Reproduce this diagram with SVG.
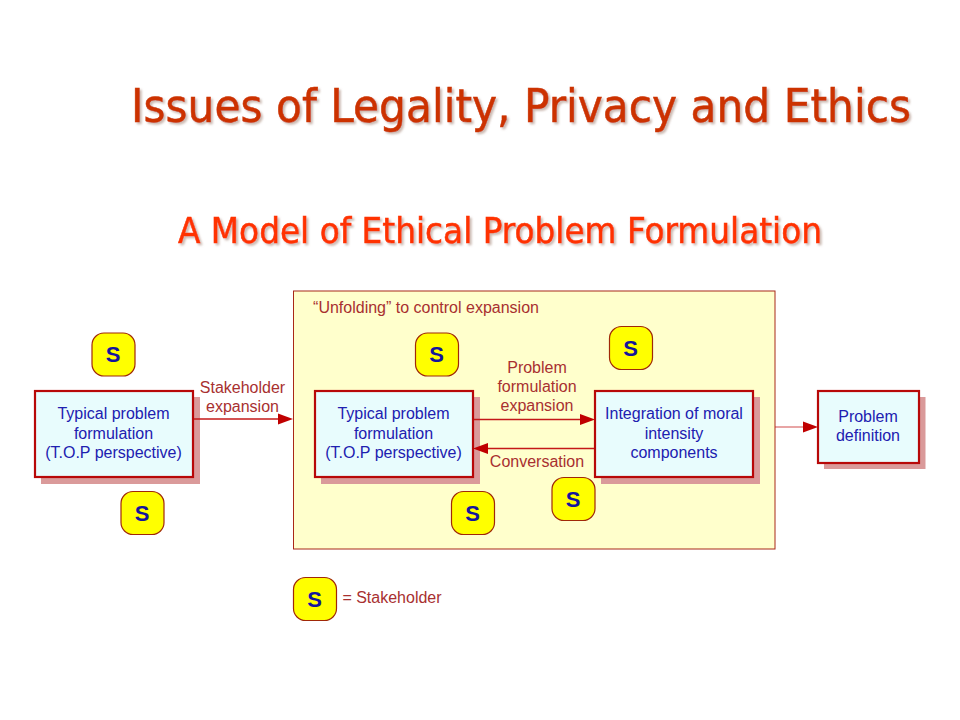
<svg xmlns="http://www.w3.org/2000/svg" width="960" height="720" viewBox="0 0 960 720">
<style>
text{font-family:"Liberation Sans",Arial,sans-serif;text-anchor:middle}
.t{font-family:"DejaVu Sans",Tahoma,sans-serif;font-stretch:condensed;text-anchor:start;filter:url(#ds)}
.box{fill:#e8fcfd;stroke:#b80808;stroke-width:2.2}
.sh{fill:#da9a9a}
.bt{font-size:16px;fill:#2020b0}
.lb{font-size:16px;fill:#a83030}
.s{fill:#ffff00;stroke:#a02808;stroke-width:1.2}
.st{font-size:22px;font-weight:bold;fill:#14149c}
.c{stroke:#c41818;stroke-width:1.3;fill:none}
.ah{fill:#c00000}
</style>
<defs>
<filter id="ds" x="-5%" y="-20%" width="110%" height="140%"><feDropShadow dx="2" dy="2" stdDeviation="1" flood-color="#a08070" flood-opacity=".55"/></filter>
<g id="stk"><rect class="s" x="0" y="0" width="43" height="43" rx="12"/><text class="st" x="21" y="29">S</text></g>
</defs>
<rect width="960" height="720" fill="#fff"/>
<g id="title">
<text class="t" x="131" y="122" font-size="46" fill="#cc3300" stroke="#cc3300" stroke-width=".5" textLength="780" lengthAdjust="spacingAndGlyphs">Issues of Legality, Privacy and Ethics</text>
</g>
<g id="subtitle">
<text class="t" x="178" y="243" font-size="35" fill="#ff3300" stroke="#ff3300" stroke-width=".5" textLength="644" lengthAdjust="spacingAndGlyphs">A Model of Ethical Problem Formulation</text>
</g>
<g id="unfolding">
<rect x="293.500" y="291" width="481.500" height="258" fill="#ffffcc" stroke="#a82818" stroke-width="1"/>
<text class="lb" x="426" y="312.500">“Unfolding” to control expansion</text>
</g>
<g id="box1"><rect class="sh" x="41" y="397" width="159" height="87"/><rect class="box" x="35" y="391" width="158" height="86"/>
<text class="bt" x="113.500" y="419">Typical problem</text><text class="bt" x="113.500" y="438.500">formulation</text><text class="bt" x="113.500" y="457.500">(T.O.P perspective)</text></g>
<g id="box2"><rect class="sh" x="321" y="397" width="159" height="87"/><rect class="box" x="315" y="391" width="158" height="86"/>
<text class="bt" x="393.500" y="419">Typical problem</text><text class="bt" x="393.500" y="438.500">formulation</text><text class="bt" x="393.500" y="457.500">(T.O.P perspective)</text></g>
<g id="box3"><rect class="sh" x="601" y="397" width="159" height="87"/><rect class="box" x="595" y="391" width="158" height="86"/>
<text class="bt" x="674" y="419">Integration of moral</text><text class="bt" x="674" y="438.500">intensity</text><text class="bt" x="674" y="457.500">components</text></g>
<g id="box4"><rect class="sh" x="824" y="397" width="101.500" height="72"/><rect class="box" x="818" y="391" width="101" height="72"/>
<text class="bt" x="868" y="421.500">Problem</text><text class="bt" x="868" y="440.500">definition</text></g>
<g id="connectors">
<path class="c" d="M194 419H279"/><path class="ah" d="M278 413.500L293 419L278 424.500Z"/>
<path class="c" d="M474 419.500H581"/><path class="ah" d="M580 414L595 419.500L580 425Z"/>
<path class="c" d="M594 448.500H487"/><path class="ah" d="M488 443L473 448.500L488 454Z"/>
<path class="c" d="M775 427H804" stroke-opacity=".6"/><path class="ah" d="M803 421.500L818 427L803 432.500Z"/>
</g>
<g id="labels">
<text class="lb" x="242.500" y="393">Stakeholder</text>
<text class="lb" x="242.500" y="412">expansion</text>
<text class="lb" x="537" y="373">Problem</text>
<text class="lb" x="537" y="392">formulation</text>
<text class="lb" x="537" y="411">expansion</text>
<text class="lb" x="537" y="467">Conversation</text>
<text class="lb" x="392" y="603">= Stakeholder</text>
</g>
<g id="s1"><use href="#stk" x="92" y="333"/></g>
<g id="s2"><use href="#stk" x="121" y="491.500"/></g>
<g id="s3"><use href="#stk" x="415.500" y="333"/></g>
<g id="s4"><use href="#stk" x="609.500" y="326.500"/></g>
<g id="s5"><use href="#stk" x="552" y="477.500"/></g>
<g id="s6"><use href="#stk" x="451.500" y="491.500"/></g>
<g id="s7"><use href="#stk" x="293.500" y="577.500"/></g>
</svg>
